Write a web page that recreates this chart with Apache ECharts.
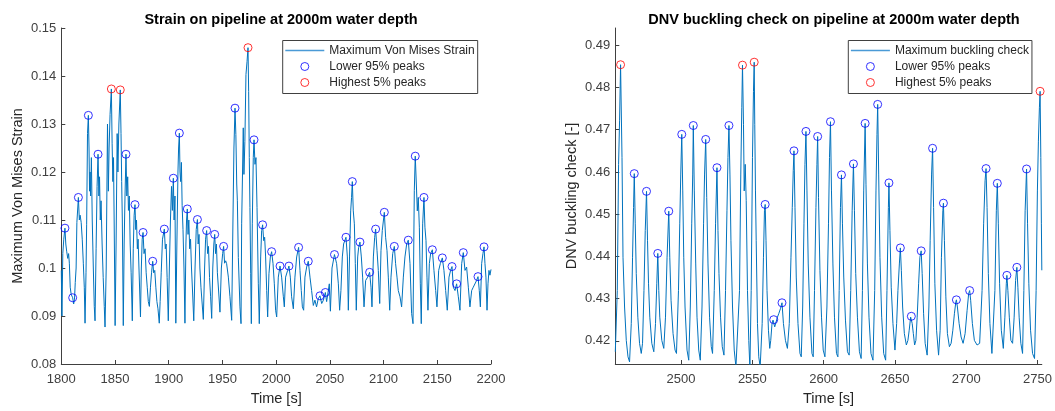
<!DOCTYPE html>
<html><head><meta charset="utf-8">
<script src="https://cdn.jsdelivr.net/npm/echarts@6/dist/echarts.min.js"></script>
<style>html,body{margin:0;padding:0;background:#fff}#c{width:1055px;height:411px}</style>
</head><body><div id="c"></div>
<script>
// ---------- Left plot: strain ----------
const strainTime = [1800.0,1800.6,1801.4,1802.3,1803.4,1804.2,1805.0,1806.0,1806.8,1807.5,1808.3,1809.2,1810.6,1811.5,1812.3,1813.0,1813.8,1814.5,1815.9,1816.8,1817.5,1818.5,1819.5,1820.5,1821.4,1822.1,1823.0,1823.6,1824.4,1825.2,1825.8,1826.3,1826.8,1827.3,1828.0,1828.8,1829.8,1830.7,1831.4,1832.4,1833.3,1834.2,1835.0,1835.6,1836.3,1837.0,1838.0,1839.0,1840.0,1840.7,1841.8,1842.4,1843.0,1843.8,1844.5,1845.4,1846.6,1847.3,1848.0,1848.6,1849.2,1849.6,1850.1,1851.0,1852.0,1852.7,1853.6,1854.9,1855.6,1856.2,1856.8,1857.7,1858.5,1859.3,1860.2,1861.0,1861.8,1862.5,1863.3,1864.1,1865.0,1866.1,1867.0,1867.8,1868.6,1869.3,1870.0,1870.8,1871.5,1872.3,1873.0,1873.7,1874.5,1875.3,1876.1,1877.0,1878.0,1879.0,1880.0,1881.0,1882.0,1883.0,1884.0,1885.1,1886.0,1887.0,1888.0,1889.0,1890.0,1891.2,1892.0,1893.0,1894.2,1895.9,1896.8,1897.6,1898.5,1899.6,1900.6,1901.6,1902.6,1903.4,1904.3,1905.0,1905.8,1906.6,1907.6,1908.6,1909.2,1909.9,1910.5,1911.1,1911.8,1912.5,1913.3,1914.2,1915.1,1916.0,1916.6,1917.3,1918.0,1918.7,1919.5,1920.3,1921.2,1922.2,1923.3,1924.5,1925.6,1926.7,1927.4,1928.2,1929.0,1930.0,1932.2,1933.4,1934.3,1935.3,1936.2,1937.0,1938.0,1939.0,1940.0,1941.0,1942.0,1942.8,1943.6,1944.4,1945.3,1946.5,1947.7,1949.0,1950.2,1951.1,1952.0,1953.0,1953.9,1955.5,1957.0,1958.6,1959.8,1960.7,1961.7,1962.5,1963.3,1963.9,1964.8,1966.3,1967.3,1967.9,1969.4,1970.0,1970.9,1971.9,1972.9,1973.8,1974.4,1975.0,1975.6,1976.3,1976.9,1977.8,1978.7,1979.4,1980.3,1981.2,1982.2,1983.4,1984.3,1985.6,1986.5,1987.4,1988.4,1989.3,1990.2,1991.2,1992.1,1993.3,1994.6,1995.8,1997.1,1998.3,1999.5,2000.5,2002.0,2003.6,2005.1,2006.7,2007.6,2008.8,2010.7,2011.9,2013.2,2014.4,2016.0,2017.5,2019.1,2020.9,2022.2,2023.4,2024.4,2025.6,2026.8,2028.4,2029.9,2031.5,2033.0,2034.6,2036.1,2037.6,2039.2,2040.8,2042.4,2044.0,2045.8,2047.0,2049.5,2050.5,2052.0,2054.3,2056.3,2057.9,2059.1,2060.3,2061.6,2062.8,2063.9,2065.0,2066.3,2067.2,2068.3,2069.4,2070.2,2070.9,2071.8,2072.8,2073.7,2074.6,2075.9,2076.8,2078.0,2079.3,2080.5,2081.8,2083.3,2085.2,2087.0,2088.3,2089.2,2090.5,2091.7,2092.6,2093.9,2095.1,2096.4,2097.6,2098.8,2100.7,2101.9,2103.2,2104.4,2105.7,2106.9,2108.5,2110.0,2111.2,2112.5,2113.7,2115.3,2116.8,2118.4,2119.9,2121.5,2123.0,2124.6,2126.1,2127.4,2128.6,2129.5,2130.5,2131.4,2132.3,2133.3,2134.2,2135.1,2136.4,2137.6,2138.5,2139.5,2140.4,2141.3,2142.6,2143.8,2145.4,2146.9,2148.5,2149.7,2151.3,2152.8,2154.7,2156.2,2157.8,2159.3,2160.9,2162.4,2163.7,2164.9,2166.5,2168.0,2169.6,2171.1,2172.7,2174.2,2175.8,2177.3,2178.9,2180.4,2182.0,2183.5,2185.0,2186.6,2187.9,2189.1,2190.1,2191.3,2192.5,2193.5,2194.4,2195.3,2196.3,2197.2,2198.1,2199.0,2200.0];
const strainValue = [0.0995,0.0900,0.1030,0.1060,0.1083,0.1050,0.1035,0.1020,0.1030,0.1010,0.0960,0.0945,0.0938,0.0925,0.0935,0.0970,0.1000,0.1095,0.1147,0.1100,0.1110,0.1095,0.1060,0.1010,0.0960,0.0885,0.0990,0.1090,0.1280,0.1318,0.1250,0.1160,0.1200,0.1150,0.1230,0.1100,0.1000,0.0920,0.0890,0.1040,0.1170,0.1237,0.1150,0.1190,0.1100,0.1140,0.1050,0.0980,0.0920,0.0877,0.1000,0.1150,0.1300,0.1160,0.1250,0.1320,0.1373,0.1260,0.1180,0.1230,0.1100,0.1000,0.0880,0.1050,0.1280,0.1200,0.1300,0.1371,0.1280,0.1180,0.1100,0.0880,0.1050,0.1150,0.1237,0.1150,0.1190,0.1120,0.1150,0.1050,0.0990,0.0890,0.1040,0.1110,0.1132,0.1080,0.1100,0.1040,0.1060,0.1000,0.0950,0.0898,0.1000,0.1060,0.1074,0.1030,0.1040,0.0990,0.0960,0.0930,0.0920,0.0960,0.0990,0.1014,0.0990,0.0995,0.0960,0.0930,0.0915,0.0885,0.0930,0.0990,0.1060,0.1081,0.1040,0.1050,0.0980,0.0890,0.1000,0.1100,0.1170,0.1120,0.1187,0.1100,0.1150,0.0885,0.1050,0.1200,0.1250,0.1281,0.1200,0.1180,0.1220,0.1130,0.1080,0.1000,0.0885,0.1050,0.1100,0.1123,0.1070,0.1100,0.1040,0.1060,0.1000,0.0950,0.0890,0.1000,0.1080,0.1101,0.1050,0.1070,0.1000,0.0960,0.0893,0.1000,0.1060,0.1078,0.1030,0.1045,0.0980,0.0940,0.0895,0.1000,0.1050,0.1070,0.1030,0.1050,0.0990,0.0950,0.0908,0.1000,0.1030,0.1045,0.1010,0.1015,0.1009,0.0981,0.0940,0.0891,0.1100,0.1250,0.1333,0.1278,0.1175,0.1140,0.1022,0.0919,0.0884,0.1092,0.1292,0.1195,0.1264,0.1403,0.1430,0.1459,0.1368,0.1230,0.1126,0.0988,0.0884,0.1092,0.1230,0.1267,0.1216,0.1230,0.1126,0.0967,0.0884,0.1023,0.1078,0.1090,0.1057,0.1064,0.1023,0.0953,0.0898,0.0988,0.1023,0.1034,0.1009,0.0967,0.0912,0.0898,0.0981,0.1004,0.0981,0.0940,0.0919,0.0981,0.0995,0.1004,0.0981,0.0940,0.0915,0.0981,0.1023,0.1043,0.0995,0.0953,0.0919,0.0912,0.0981,0.1002,0.1014,0.0981,0.0953,0.0922,0.0933,0.0919,0.0936,0.0942,0.0926,0.0933,0.0949,0.0930,0.0967,0.0910,0.1000,0.1028,0.1009,0.0967,0.0912,0.0953,0.1023,0.1050,0.1057,0.1064,0.1023,0.0912,0.1023,0.1119,0.1147,0.1180,0.1119,0.1092,0.1009,0.0912,0.1023,0.1043,0.1054,0.1023,0.0981,0.0919,0.0974,0.0981,0.0991,0.0960,0.0919,0.1023,0.1064,0.1081,0.1036,0.0995,0.0926,0.1036,0.1078,0.1116,0.1064,0.1036,0.0981,0.0912,0.0981,0.1030,0.1045,0.1009,0.0981,0.0953,0.0940,0.0919,0.0981,0.1023,0.1050,0.1058,0.1009,0.0905,0.0884,0.1161,0.1233,0.1175,0.1119,0.1147,0.1085,0.0967,0.0884,0.1092,0.1147,0.1085,0.1057,0.0981,0.0912,0.1009,0.1030,0.1038,0.0995,0.0953,0.0919,0.0995,0.1009,0.1021,0.0995,0.0953,0.0912,0.0981,0.0995,0.1003,0.0960,0.0953,0.0967,0.0940,0.0912,0.1009,0.1032,0.0995,0.1002,0.0960,0.0919,0.0953,0.0960,0.0960,0.0974,0.0982,0.0953,0.0919,0.1009,0.1030,0.1044,0.1009,0.0981,0.0912,0.0967,0.0995,0.0985,0.0997];
const strainLowTime = [1803.4,1810.6,1815.9,1825.2,1834.2,1860.2,1868.6,1876.1,1885.1,1895.9,1904.3,1909.9,1917.3,1926.7,1935.3,1942.8,1951.1,1961.7,1979.4,1987.4,1995.8,2003.6,2011.9,2020.9,2029.9,2040.8,2045.8,2054.3,2065.0,2070.9,2078.0,2087.0,2092.6,2100.7,2110.0,2123.0,2129.5,2137.6,2145.4,2154.7,2163.7,2168.0,2174.2,2187.9,2193.5];
const strainLowValue = [0.1083,0.0938,0.1147,0.1318,0.1237,0.1237,0.1132,0.1074,0.1014,0.1081,0.1187,0.1281,0.1123,0.1101,0.1078,0.1070,0.1045,0.1333,0.1267,0.1090,0.1034,0.1004,0.1004,0.1043,0.1014,0.0942,0.0949,0.1028,0.1064,0.1180,0.1054,0.0991,0.1081,0.1116,0.1045,0.1058,0.1233,0.1147,0.1038,0.1021,0.1003,0.0967,0.1032,0.0982,0.1044];
const strainHighTime = [1846.6,1854.9,1973.8];
const strainHighValue = [0.1373,0.1371,0.1459];
const strainXTicks = [1800,1850,1900,1950,2000,2050,2100,2150,2200];
const strainYTicks = [0.08,0.09,0.10,0.11,0.12,0.13,0.14,0.15];

// ---------- Right plot: DNV buckling check ----------
const dnvTime = [2453.9,2455.3,2456.2,2456.9,2457.6,2458.6,2459.3,2460.4,2461.6,2462.8,2463.9,2465.1,2466.0,2466.7,2467.2,2467.9,2468.6,2469.7,2470.9,2472.1,2473.0,2474.0,2474.9,2475.8,2476.5,2477.2,2478.1,2479.5,2480.9,2482.1,2483.0,2483.7,2484.4,2485.1,2486.5,2487.9,2489.1,2490.2,2491.4,2492.1,2493.0,2494.4,2495.8,2496.8,2498.2,2499.1,2499.8,2500.5,2501.2,2501.9,2502.8,2504.2,2505.4,2506.5,2507.5,2508.2,2508.6,2509.3,2510.3,2511.2,2512.4,2513.5,2514.7,2515.8,2516.5,2517.3,2518.0,2518.9,2520.0,2521.2,2522.1,2523.3,2524.2,2525.2,2525.9,2526.6,2527.7,2528.9,2530.1,2531.2,2532.2,2532.9,2533.6,2534.3,2535.0,2536.1,2537.3,2538.5,2539.6,2541.0,2541.9,2542.6,2543.1,2543.8,2544.3,2545.0,2545.7,2546.6,2547.5,2548.3,2549.2,2550.1,2550.8,2551.3,2551.7,2552.2,2552.7,2553.6,2554.5,2555.5,2556.9,2557.8,2558.5,2559.0,2559.6,2560.3,2561.3,2562.2,2562.9,2563.8,2564.5,2565.0,2565.7,2566.6,2567.6,2568.5,2569.7,2570.8,2571.8,2573.2,2574.6,2575.9,2577.1,2578.0,2578.7,2579.2,2579.9,2580.8,2582.0,2583.4,2584.3,2585.3,2586.2,2586.9,2587.6,2588.3,2589.2,2590.4,2591.8,2592.7,2593.6,2594.6,2595.3,2595.8,2596.4,2597.4,2598.5,2599.7,2600.9,2602.3,2603.4,2604.1,2604.8,2605.5,2606.5,2607.6,2609.0,2610.0,2610.9,2611.8,2612.5,2613.2,2614.1,2615.3,2616.7,2617.9,2619.0,2620.0,2620.9,2621.6,2622.5,2623.7,2625.1,2626.3,2627.2,2628.1,2629.1,2629.7,2630.7,2631.8,2633.2,2634.6,2635.8,2636.7,2637.4,2637.9,2638.6,2639.5,2640.7,2642.1,2643.5,2644.4,2645.4,2645.8,2646.5,2647.4,2648.6,2650.0,2651.2,2652.1,2653.1,2653.8,2654.5,2655.4,2656.6,2658.0,2659.1,2660.0,2661.0,2661.5,2662.1,2662.9,2663.8,2664.7,2665.6,2666.6,2667.5,2668.4,2669.1,2670.1,2671.2,2672.6,2673.8,2674.7,2675.7,2676.4,2677.1,2678.0,2679.2,2680.6,2681.7,2682.6,2683.6,2684.0,2684.7,2685.7,2686.8,2688.2,2689.4,2690.6,2691.7,2692.7,2693.1,2693.8,2695.0,2696.4,2697.8,2699.2,2700.6,2701.7,2702.4,2703.1,2704.3,2705.7,2707.6,2709.4,2711.1,2712.2,2713.2,2713.9,2714.6,2715.5,2716.6,2718.0,2719.2,2720.1,2721.1,2721.8,2722.5,2723.4,2724.6,2726.0,2727.1,2728.1,2728.5,2729.2,2730.2,2731.3,2732.5,2733.6,2734.6,2735.5,2736.2,2737.1,2738.3,2739.5,2740.4,2741.3,2742.3,2743.0,2743.9,2745.1,2746.5,2747.9,2749.0,2749.9,2750.6,2751.3,2751.8,2752.3,2752.7,2753.0];
const dnvValue = [0.4174,0.4319,0.4618,0.4721,0.4854,0.4634,0.4398,0.4280,0.4201,0.4162,0.4150,0.4241,0.4398,0.4516,0.4596,0.4477,0.4359,0.4256,0.4194,0.4170,0.4194,0.4319,0.4461,0.4554,0.4437,0.4335,0.4256,0.4194,0.4174,0.4241,0.4335,0.4407,0.4319,0.4256,0.4201,0.4182,0.4256,0.4398,0.4507,0.4398,0.4296,0.4217,0.4178,0.4170,0.4319,0.4477,0.4595,0.4689,0.4555,0.4398,0.4280,0.4178,0.4154,0.4280,0.4477,0.4595,0.4710,0.4555,0.4382,0.4256,0.4178,0.4154,0.4280,0.4477,0.4595,0.4677,0.4540,0.4382,0.4256,0.4186,0.4170,0.4319,0.4477,0.4610,0.4461,0.4359,0.4256,0.4186,0.4166,0.4319,0.4508,0.4634,0.4710,0.4595,0.4437,0.4280,0.4178,0.4138,0.4138,0.4319,0.4595,0.4752,0.4853,0.4713,0.4555,0.4618,0.4532,0.4319,0.4201,0.4135,0.4319,0.4634,0.4791,0.4860,0.4713,0.4555,0.4437,0.4241,0.4162,0.4138,0.4241,0.4398,0.4508,0.4523,0.4437,0.4319,0.4225,0.4182,0.4201,0.4241,0.4249,0.4250,0.4233,0.4237,0.4256,0.4264,0.4276,0.4290,0.4241,0.4201,0.4182,0.4241,0.4398,0.4516,0.4603,0.4650,0.4516,0.4351,0.4241,0.4170,0.4162,0.4280,0.4477,0.4618,0.4696,0.4555,0.4382,0.4256,0.4170,0.4162,0.4319,0.4516,0.4618,0.4684,0.4540,0.4367,0.4256,0.4178,0.4162,0.4280,0.4477,0.4634,0.4719,0.4555,0.4382,0.4256,0.4170,0.4162,0.4319,0.4516,0.4593,0.4477,0.4351,0.4249,0.4174,0.4166,0.4319,0.4508,0.4619,0.4508,0.4359,0.4256,0.4174,0.4158,0.4319,0.4555,0.4715,0.4571,0.4382,0.4256,0.4170,0.4154,0.4319,0.4555,0.4689,0.4760,0.4595,0.4398,0.4256,0.4170,0.4154,0.4319,0.4516,0.4574,0.4461,0.4327,0.4241,0.4178,0.4241,0.4319,0.4382,0.4420,0.4367,0.4280,0.4217,0.4190,0.4201,0.4225,0.4256,0.4258,0.4241,0.4217,0.4190,0.4201,0.4256,0.4335,0.4398,0.4413,0.4359,0.4264,0.4194,0.4166,0.4280,0.4437,0.4595,0.4656,0.4516,0.4335,0.4225,0.4166,0.4225,0.4398,0.4508,0.4526,0.4437,0.4304,0.4217,0.4186,0.4194,0.4225,0.4264,0.4292,0.4297,0.4280,0.4241,0.4209,0.4194,0.4217,0.4272,0.4312,0.4319,0.4296,0.4241,0.4201,0.4190,0.4194,0.4319,0.4477,0.4579,0.4608,0.4516,0.4359,0.4241,0.4170,0.4166,0.4319,0.4508,0.4573,0.4477,0.4335,0.4225,0.4182,0.4256,0.4335,0.4355,0.4319,0.4256,0.4201,0.4194,0.4256,0.4343,0.4374,0.4327,0.4256,0.4194,0.4170,0.4319,0.4508,0.4607,0.4477,0.4335,0.4225,0.4170,0.4158,0.4319,0.4555,0.4673,0.4752,0.4791,0.4634,0.4477,0.4367];
const dnvLowTime = [2467.2,2475.8,2483.7,2491.4,2500.5,2508.6,2517.3,2525.2,2533.6,2559.0,2565.0,2570.8,2579.2,2587.6,2595.8,2604.8,2612.5,2620.9,2629.1,2637.9,2645.8,2653.8,2661.5,2668.4,2676.4,2684.0,2693.1,2702.4,2713.9,2721.8,2728.5,2735.5,2742.3];
const dnvLowValue = [0.4596,0.4554,0.4407,0.4507,0.4689,0.4710,0.4677,0.4610,0.4710,0.4523,0.4250,0.4290,0.4650,0.4696,0.4684,0.4719,0.4593,0.4619,0.4715,0.4760,0.4574,0.4420,0.4258,0.4413,0.4656,0.4526,0.4297,0.4319,0.4608,0.4573,0.4355,0.4374,0.4607];
const dnvHighTime = [2457.6,2543.1,2551.3,2751.8];
const dnvHighValue = [0.4854,0.4853,0.4860,0.4791];
const dnvXTicks = [2500,2550,2600,2650,2700,2750];
const dnvYTicks = [0.42,0.43,0.44,0.45,0.46,0.47,0.48,0.49];

// ---------- Chart ----------
const zip = (a, b) => a.map((t, i) => [t, b[i]]);
const FONT = '"Liberation Sans", Arial, Helvetica, sans-serif';
const AX = '#404040';
const LINE = '#0072BD';
const fmt = v => String(+v.toFixed(3));

function xAxis(gridIndex, min, max, ticks) {
  return {
    type: 'value', gridIndex, min, max,
    name: 'Time [s]', nameLocation: 'middle', nameGap: 27,
    nameTextStyle: { fontFamily: FONT, fontSize: 14.5, color: '#262626' },
    axisLine: { show: true, onZero: false, lineStyle: { color: AX, width: 1 } },
    axisTick: { show: true, inside: true, length: 4, customValues: ticks, lineStyle: { color: AX } },
    axisLabel: { customValues: ticks, margin: 9, fontFamily: FONT, fontSize: 13, color: '#404040', formatter: fmt },
    splitLine: { show: false }
  };
}
function yAxis(gridIndex, min, max, ticks, name) {
  return {
    type: 'value', gridIndex, min, max,
    name, nameLocation: 'middle', nameGap: 36,
    nameTextStyle: { fontFamily: FONT, fontSize: 14.5, color: '#262626' },
    axisLine: { show: true, onZero: false, lineStyle: { color: AX, width: 1 } },
    axisTick: { show: true, inside: true, length: 4, customValues: ticks, lineStyle: { color: AX } },
    axisLabel: { customValues: ticks, margin: 5, fontFamily: FONT, fontSize: 13, color: '#404040', formatter: fmt },
    splitLine: { show: false }
  };
}
const markerStyle = c => ({ color: 'rgba(0,0,0,0)', borderColor: c, borderWidth: 1 });
function legend(left, lineName) {
  return {
    orient: 'vertical', left, top: 40.5,
    padding: [2, 3, 3, 2.6],
    itemWidth: 39, itemHeight: 8, itemGap: 0,
    borderColor: '#404040', borderWidth: 1, backgroundColor: '#fff',
    selectedMode: false,
    textStyle: { fontFamily: FONT, fontSize: 12, color: '#262626', lineHeight: 16 },
    data: [
      { name: lineName, icon: 'path://M0,0L40,0L40,1.6L0,1.6Z', itemStyle: { color: '#4a9ad6', borderWidth: 0 } },
      { name: 'Lower 95% peaks', icon: 'circle', itemStyle: markerStyle('#0000ff') },
      { name: 'Highest 5% peaks', icon: 'circle', itemStyle: markerStyle('#ff0000') }
    ]
  };
}
function lineSeries(name, idx, data) {
  return { name, type: 'line', xAxisIndex: idx, yAxisIndex: idx, data, showSymbol: false, symbol: 'none',
    lineStyle: { color: LINE, width: 1 }, itemStyle: { color: LINE }, clip: true, silent: true, animation: false };
}
function peakSeries(name, idx, data, c) {
  return { name, type: 'scatter', xAxisIndex: idx, yAxisIndex: idx, data, symbol: 'circle', symbolSize: 8,
    itemStyle: markerStyle(c), silent: true, animation: false, z: 3 };
}

const chart = echarts.init(document.getElementById('c'));
chart.setOption({
  animation: false,
  backgroundColor: '#fff',
  title: [
    { text: 'Strain on pipeline at 2000m water depth', left: 276, top: 7, textAlign: 'center',
      textStyle: { fontFamily: FONT, fontSize: 14.5, fontWeight: 'bold', color: '#000' } },
    { text: 'DNV buckling check on pipeline at 2000m water depth', left: 829, top: 7, textAlign: 'center',
      textStyle: { fontFamily: FONT, fontSize: 14.5, fontWeight: 'bold', color: '#000' } }
  ],
  legend: [legend(282.7, 'Maximum Von Mises Strain'), legend(848.3, 'Maximum buckling check')],
  grid: [
    { left: 61.3, right: 564, top: 28, bottom: 45.3, containLabel: false },
    { left: 615.3, right: 12, top: 28, bottom: 45.3, containLabel: false }
  ],
  xAxis: [xAxis(0, 1800, 2200, strainXTicks), xAxis(1, 2453.9, 2753.0, dnvXTicks)],
  yAxis: [yAxis(0, 0.08, 0.15, strainYTicks, 'Maximum Von Mises Strain'),
          yAxis(1, 0.4145, 0.4941, dnvYTicks, 'DNV buckling check [-]')],
  series: [
    lineSeries('Maximum Von Mises Strain', 0, zip(strainTime, strainValue)),
    peakSeries('Lower 95% peaks', 0, zip(strainLowTime, strainLowValue), '#0000ff'),
    peakSeries('Highest 5% peaks', 0, zip(strainHighTime, strainHighValue), '#ff0000'),
    lineSeries('Maximum buckling check', 1, zip(dnvTime, dnvValue)),
    peakSeries('Lower 95% peaks', 1, zip(dnvLowTime, dnvLowValue), '#0000ff'),
    peakSeries('Highest 5% peaks', 1, zip(dnvHighTime, dnvHighValue), '#ff0000')
  ]
});
</script>
</body></html>
